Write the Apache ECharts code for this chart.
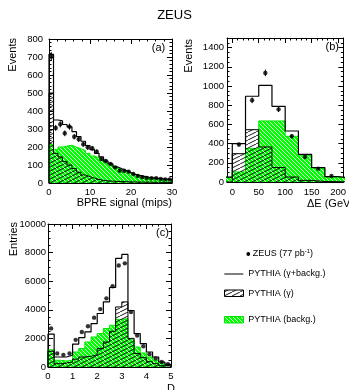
<!DOCTYPE html>
<html><head><meta charset="utf-8">
<script src="https://cdn.jsdelivr.net/npm/echarts@6/dist/echarts.min.js"></script>
<style>html,body{margin:0;padding:0;background:#fff}#c{width:349px;height:390px}</style>
</head><body><div id="c"></div>
<script>
// ---------- Panel (a): BPRE signal ----------
const aEdges = [0,1.1,2.2,3.3,4.4,5.6,6.7,7.8,8.9,10,11.1,12.2,13.3,14.4,15.6,16.7,17.8,18.9,20,21.1,22.2,23.3,24.4,25.6,26.7,27.8,28.9,30];
const aData  = [702,306,326,276,313,257,243,215,198,193,174,133,122,106,87,68,68,63,50,39,32,28,26,26,22,20,20];
const aErr   = [25,17,17,16,17,15,15,14,14,13,13,11,11,10,9,8,8,8,7,6,6,5,5,5,5,4,4];
const aTotal = [715,350,345,325,312,285,258,232,208,185,165,145,122,106,90,79,69,58,48,42,37,32,29,26,23,21,19];
const aGamma = [500,165,145,120,100,80,60,45,35,27,20,15,12,10,9,8,7,6,6,5,5,5,4,4,4,3,3];
const aBackg = [215,185,200,205,210,200,190,180,165,150,140,130,110,100,85,75,65,55,45,40,35,30,27,25,22,20,18];

// ---------- Panel (b): Delta E ----------
const bEdges = [-25,0,25,50,75,100,125,150,175,200,225];
const bCenters = [12.5,37.5,62.5,87.5,112.5,137.5,162.5,187.5];
const bData  = [390,851,1136,757,476,260,139,63];
const bErr   = [20,30,34,28,22,16,12,8];
const bTotal = [50,400,893,1007,788,531,288,149,55,42];
const bGamma = [0,295,545,365,150,52,17,5,3,2];
const bBackg = [50,105,350,636,636,476,278,149,52,40];
const bXTicks = [0,50,100,150,200];

// ---------- Panel (c): D ----------
const cEdges = [0,0.25,0.5,0.75,1,1.25,1.5,1.75,2,2.25,2.5,2.75,3,3.25,3.5,3.75,4,4.25,4.5,4.75,5];
const cData  = [2700,950,850,950,1900,2450,2850,3450,4050,4800,5650,7100,7250,3850,2200,1450,900,600,350,200];
const cTotal = [2300,700,700,820,1600,2060,2450,3040,3740,4560,5560,7600,7870,3950,2340,1640,1050,700,350,190];
const cGamma = [1100,230,280,350,550,700,750,850,1300,1750,2500,4200,4550,2000,950,650,370,230,90,70];
const cBackg = [1200,470,420,470,1050,1290,1750,2100,2340,2690,2920,3320,3390,1900,1400,980,700,470,280,120];

const FONT = '"Liberation Sans", Arial, Helvetica, sans-serif';

function hatchPattern(){
  const c = document.createElement('canvas'); c.width = 8; c.height = 4;
  const g = c.getContext('2d');
  g.strokeStyle = '#000'; g.lineWidth = 0.9;
  g.beginPath();
  for (const dx of [-8,0,8]) { g.moveTo(dx,4); g.lineTo(dx+8,0); }
  g.stroke();
  return c;
}
function greenPattern(){
  const c = document.createElement('canvas'); c.width = 4; c.height = 4;
  const g = c.getContext('2d');
  g.fillStyle = '#00ff00'; g.fillRect(0,0,4,4);
  g.strokeStyle = '#ffffff'; g.lineWidth = 0.9;
  g.beginPath();
  for (const dx of [-4,0,4]) { g.moveTo(dx,0); g.lineTo(dx+4,4); }
  g.stroke();
  return c;
}
const HATCH = {image: hatchPattern(), repeat: 'repeat'};
const GREEN = {image: greenPattern(), repeat: 'repeat'};
const GREEN_LINE = '#00e600';

function stepData(edges, vals){
  const d = [[edges[0], 0]];
  vals.forEach((v,i) => d.push([edges[i], v]));
  d.push([edges[edges.length-1], 0]);
  return d;
}
function centers(edges){
  const r = [];
  for (let i = 0; i < edges.length-1; i++) r.push((edges[i]+edges[i+1])/2);
  return r;
}
function stepSeries(name, ax, edges, vals, color, lw, fill, z){
  const s = {type:'line', name, xAxisIndex:ax, yAxisIndex:ax, data:stepData(edges, vals), step:'end',
    symbol:'none', showSymbol:false, lineStyle:{color, width:lw}, itemStyle:{color},
    silent:true, animation:false, z};
  if (fill) s.areaStyle = {color: fill, opacity: 1};
  return s;
}
function errSeries(ax, xs, vals, errs){
  return {type:'custom', xAxisIndex:ax, yAxisIndex:ax, silent:true, z:6,
    data: xs.map((x,i)=>[x, vals[i], errs[i]]),
    renderItem(params, api){
      const x = api.value(0), y = api.value(1), e = api.value(2);
      const p1 = api.coord([x, y-e]), p2 = api.coord([x, y+e]);
      return {type:'line', shape:{x1:p1[0], y1:p1[1], x2:p2[0], y2:p2[1]}, style:{stroke:'#000', lineWidth:1}};
    }};
}
function dotSeries(ax, xs, vals){
  return {type:'scatter', xAxisIndex:ax, yAxisIndex:ax, silent:true, z:7,
    data: xs.map((x,i)=>[x, vals[i]]), symbol:'circle', symbolSize:4.4, itemStyle:{color:'#000'}};
}

const LINE = {color:'#000', width:1};
function mkAxis(grid, pos, o, withLabels){
  const ax = {type:'value', gridIndex:grid, position:pos, min:o.min, max:o.max,
    axisLine:{show:true, onZero:false, lineStyle:LINE},
    axisTick:{show:true, inside:true, length:5, lineStyle:LINE},
    minorTick:{show:true, splitNumber:o.minor, length:2.5, lineStyle:LINE},
    splitLine:{show:false}, minorSplitLine:{show:false},
    axisPointer:{show:false},
    axisLabel: withLabels ? {show:true, margin:o.margin, fontSize:o.fs, color:'#000', fontFamily:FONT,
      formatter: v => String(v), showMinLabel: o.showMin !== false, showMaxLabel: o.showMax !== false} : {show:false}
  };
  if (o.interval !== undefined) ax.interval = o.interval;
  if (o.ticks) { ax.axisTick.customValues = o.ticks; if (withLabels) ax.axisLabel.customValues = o.ticks; }
  return ax;
}

const ax_a = {min:0, max:30, interval:10, minor:5, margin:4, fs:9.5};
const ay_a = {min:0, max:800, interval:100, minor:5, margin:6, fs:9.5};
const ax_b = {min:-10, max:210, minor:5, margin:5, fs:9.5, ticks:bXTicks};
const ay_b = {min:0, max:1500, interval:200, minor:4, margin:3, fs:9.5, showMax:false};
const ax_c = {min:0, max:5, interval:1, minor:4, margin:4, fs:9.5};
const ay_c = {min:0, max:10000, interval:2000, minor:4, margin:2, fs:9.5};

const option = {
  animation:false,
  backgroundColor:'#fff',
  title:{text:'ZEUS', left:'center', top:4, textStyle:{fontSize:13, fontWeight:'normal', color:'#000', fontFamily:FONT}},
  grid:[
    {left:49, top:39, width:123, height:144},
    {left:227, top:38, width:121, height:144},
    {left:48, top:224, width:123, height:143}
  ],
  xAxis:[
    mkAxis(0,'bottom',ax_a,true), mkAxis(0,'top',ax_a,false),
    mkAxis(1,'bottom',ax_b,true), mkAxis(1,'top',ax_b,false),
    mkAxis(2,'bottom',ax_c,true), mkAxis(2,'top',ax_c,false)
  ],
  yAxis:[
    mkAxis(0,'left',ay_a,true), mkAxis(0,'right',ay_a,false),
    mkAxis(1,'left',ay_b,true), mkAxis(1,'right',ay_b,false),
    mkAxis(2,'left',ay_c,true), mkAxis(2,'right',ay_c,false)
  ],
  series:[
    stepSeries('PYTHIA (backg.) a', 0, aEdges, aBackg, GREEN_LINE, 1, GREEN, 2),
    stepSeries('PYTHIA (γ) a', 0, aEdges, aGamma, '#000', 1, HATCH, 3),
    stepSeries('PYTHIA (γ+backg.) a', 0, aEdges, aTotal, '#000', 1.2, null, 4),
    errSeries(0, centers(aEdges), aData, aErr),
    dotSeries(0, centers(aEdges), aData),

    stepSeries('PYTHIA (backg.) b', 2, bEdges, bBackg, GREEN_LINE, 1, GREEN, 2),
    stepSeries('PYTHIA (γ) b', 2, bEdges, bGamma, '#000', 1, HATCH, 3),
    stepSeries('PYTHIA (γ+backg.) b', 2, bEdges, bTotal, '#000', 1.2, null, 4),
    errSeries(2, bCenters, bData, bErr),
    dotSeries(2, bCenters, bData),

    stepSeries('PYTHIA (backg.) c', 4, cEdges, cBackg, GREEN_LINE, 1, GREEN, 2),
    stepSeries('PYTHIA (γ) c', 4, cEdges, cGamma, '#000', 1, HATCH, 3),
    stepSeries('PYTHIA (γ+backg.) c', 4, cEdges, cTotal, '#000', 1.2, null, 4),
    dotSeries(4, centers(cEdges), cData)
  ],
  graphic:[
    {type:'text', x:13, y:38, rotation:Math.PI/2, style:{text:'Events', fontSize:11, fontFamily:FONT, fill:'#000', align:'right', verticalAlign:'middle'}},
    {type:'text', x:189, y:39, rotation:Math.PI/2, style:{text:'Events', fontSize:11, fontFamily:FONT, fill:'#000', align:'right', verticalAlign:'middle'}},
    {type:'text', x:14, y:222, rotation:Math.PI/2, style:{text:'Entries', fontSize:11, fontFamily:FONT, fill:'#000', align:'right', verticalAlign:'middle'}},
    {type:'text', x:172, y:203, style:{text:'BPRE signal (mips)', fontSize:11, fontFamily:FONT, fill:'#000', align:'right', verticalAlign:'middle'}},
    {type:'text', x:354, y:204, style:{text:'ΔE (GeV)', fontSize:11, fontFamily:FONT, fill:'#000', align:'right', verticalAlign:'middle'}},
    {type:'text', x:175, y:389, style:{text:'D', fontSize:11, fontFamily:FONT, fill:'#000', align:'right', verticalAlign:'middle'}},
    {type:'text', x:158.5, y:48, style:{text:'(a)', fontSize:11, fontFamily:FONT, fill:'#000', align:'center', verticalAlign:'middle'}},
    {type:'text', x:339, y:47, z:100, style:{text:'(b)', fontSize:11, fontFamily:FONT, fill:'#000', align:'right', verticalAlign:'middle'}},
    {type:'text', x:162.5, y:233, style:{text:'(c)', fontSize:11, fontFamily:FONT, fill:'#000', align:'center', verticalAlign:'middle'}},
    // legend
    {type:'circle', shape:{cx:248.3, cy:254, r:1.9}, style:{fill:'#000'}},
    {type:'text', x:252.7, y:254, style:{text:'{a|ZEUS (77 pb}{s|-1}{a|)}', fontFamily:FONT, fill:'#000', verticalAlign:'middle',
      rich:{a:{fontSize:9, fontFamily:FONT, fill:'#000'}, s:{fontSize:6, fontFamily:FONT, fill:'#000', padding:[0,0,6,0]}}}},
    {type:'line', shape:{x1:224.3, y1:274, x2:243.3, y2:274}, style:{stroke:'#000', lineWidth:1}},
    {type:'text', x:248.3, y:274, style:{text:'PYTHIA (γ+backg.)', fontSize:9, fontFamily:FONT, fill:'#000', verticalAlign:'middle'}},
    {type:'rect', shape:{x:224.5, y:290, width:19, height:6.5}, style:{fill:HATCH, stroke:'#000', lineWidth:1}},
    {type:'text', x:248.3, y:293.3, style:{text:'PYTHIA (γ)', fontSize:9, fontFamily:FONT, fill:'#000', verticalAlign:'middle'}},
    {type:'rect', shape:{x:224.5, y:316.5, width:19, height:6.5}, style:{fill:GREEN, stroke:GREEN_LINE, lineWidth:1}},
    {type:'text', x:248.3, y:320, style:{text:'PYTHIA (backg.)', fontSize:9, fontFamily:FONT, fill:'#000', verticalAlign:'middle'}}
  ]
};
const chart = echarts.init(document.getElementById('c'), null, {renderer:'canvas'});
chart.setOption(option);
</script>
</body></html>
